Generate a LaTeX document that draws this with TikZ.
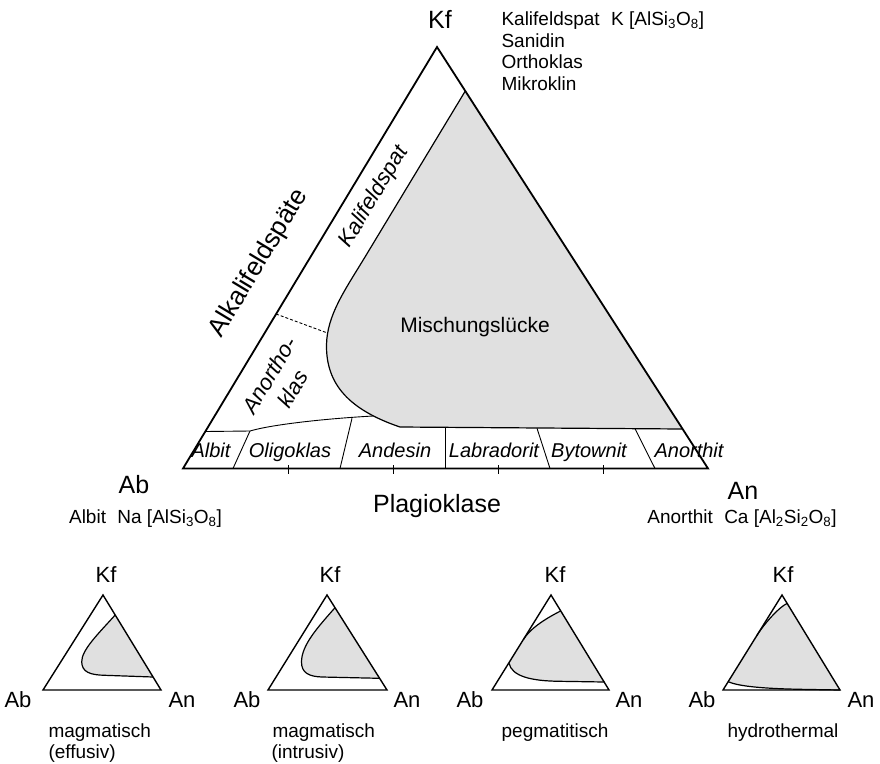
\documentclass[tikz,border=0pt]{standalone}
\usepackage{fontspec}
\setmainfont{Liberation Sans}
\usetikzlibrary{positioning}
\definecolor{luecke}{gray}{0.88}
\tikzset{
  ecke/.style={font=\fontsize{25}{30}\selectfont, anchor=base},
  formel/.style={font=\fontsize{19}{22}\selectfont, anchor=base west},
  feld/.style={font=\fontsize{20}{24}\selectfont\itshape, anchor=base},
  schraeg/.style={font=\fontsize{22}{27}\selectfont\itshape, rotate=58.9, align=center},
  rahmen/.style={line width=1.8pt, line join=miter},
  grenze/.style={line width=1.2pt},
  teil/.style={line width=0.9pt},
  klein/.style={line width=1.4pt, line join=miter},
  kleinecke/.style={font=\fontsize{22}{26}\selectfont, anchor=base},
  kommentar/.style={font=\fontsize{19}{22}\selectfont, anchor=base west}
}

\begin{document}
\begin{tikzpicture}[x=1pt, y=-1pt]
\useasboundingbox (0,0) rectangle (880,763);

% Hauptdreieck
\coordinate (Ab) at (183,468.5);
\coordinate (An) at (708,468.5);
\coordinate (Kf) at (437,47);

% Mischungsluecke
\coordinate (ml1) at (465.3,91);
\coordinate (ml2) at (365,257);
\coordinate (ml3) at (326.5,345);
\coordinate (ml4) at (400,427);
\coordinate (ml5) at (682.6,429);
\fill[luecke] (ml1) -- (ml2) .. controls (345,290) and (327,315) .. (ml3)
  .. controls (326,385) and (350,410) .. (ml4) -- (ml5) -- cycle;
\draw[grenze] (ml1) -- (ml2) .. controls (345,290) and (327,315) .. (ml3)
  .. controls (326,385) and (350,410) .. (ml4) -- (ml5);

% Plagioklas-Reihe
\coordinate (pl0) at (205.3,431.5);
\coordinate (pl1) at (250,431);
\coordinate (pl2) at (352,418.3);
\coordinate (pl3) at (373,416);
\draw[teil] (pl0) -- (pl1) .. controls (270,425) and (320,419) .. (pl3);
\draw[teil] (pl1) -- (233,468.5);
\draw[teil] (pl2) -- (340,468.5);
\draw[teil] (445,427.3) -- (445,468.5);
\draw[teil] (537,428.3) -- (550,468.5);
\draw[teil] (635,428.7) -- (655,468.5);

% Grenze Kalifeldspat / Anorthoklas
\coordinate (ak1) at (276,314);
\coordinate (ak2) at (327.5,333);
\draw[teil, dash pattern=on 3pt off 2pt] (ak1) -- (ak2);

\draw[rahmen] (Ab) -- (Kf) -- (An) -- cycle;

% Teilstriche
\draw[teil] (288,465) -- (288,474);
\draw[teil] (393,465) -- (393,474);
\draw[teil] (498,465) -- (498,474);
\draw[teil] (603,465) -- (603,474);

% Beschriftung
\node[ecke] (kf) at (440,28) {Kf};
\node[ecke] (ab) at (134,493) {Ab};
\node[ecke] (an) at (743,499) {An};
\node[ecke] (plagio) at (437,512) {Plagioklase};

\node[formel] (kalif) at (498,25.5) {Kalifeldspat\hspace{0.6em}K [AlSi\textsubscript{3}O\textsubscript{8}]};
\node[formel] (sanid) at (498,47) {Sanidin};
\node[formel] (ortho) at (498,68.5) {Orthoklas};
\node[formel] (mikro) at (498,90) {Mikroklin};
\node[formel, anchor=base] (albit) at (145.5,523) {Albit\hspace{0.6em}Na [AlSi\textsubscript{3}O\textsubscript{8}]};
\node[formel, anchor=base] (anorth) at (742,523) {Anorthit\hspace{0.6em}Ca [Al\textsubscript{2}Si\textsubscript{2}O\textsubscript{8}]};

\node[font=\fontsize{21}{25}\selectfont, anchor=base] (misch) at (475,332) {Mischungslücke};
\node[font=\fontsize{26}{31}\selectfont, rotate=58.9] (alkali) at (259,263) {Alkalifeldspäte};
\node[schraeg] (kfsp) at (374,197) {Kalifeldspat};
\node[schraeg] (anokl) at (281,382) {Anortho-\\klas};

\node[feld] (f1) at (211,457) {Albit};
\node[feld] (f2) at (290,457) {Oligoklas};
\node[feld] (f3) at (395,457) {Andesin};
\node[feld] (f4) at (494,457) {Labradorit};
\node[feld] (f5) at (589,457) {Bytownit};
\node[feld] (f6) at (689,457) {Anorthit};

% kleine Dreiecke: magmatisch (effusiv)
\fill[luecke] (115.2,615) .. controls (98,634) and (81.5,650) .. (81.7,662)
  .. controls (82,672) and (90,675) .. (105,675.3) -- (153,677) -- cycle;
\draw[grenze] (115.2,615) .. controls (98,634) and (81.5,650) .. (81.7,662)
  .. controls (82,672) and (90,675) .. (105,675.3) -- (153,677);
\draw[klein] (43,690) -- (103,595) -- (161,690) -- cycle;
\node[kleinecke] (kf1) at (106,582) {Kf};
\node[kleinecke] (ab1) at (18,707) {Ab};
\node[kleinecke] (an1) at (182,707) {An};
\node[kommentar] (t1a) at (45,737) {magmatisch};
\node[kommentar] (t1b) at (45,758) {(effusiv)};

% magmatisch (intrusiv)
\fill[luecke] (335,607.7) .. controls (318,627) and (301.5,645) .. (301.5,662)
  .. controls (301.5,673) and (309,676.5) .. (322,677) -- (379.4,678.3) -- cycle;
\draw[grenze] (335,607.7) .. controls (318,627) and (301.5,645) .. (301.5,662)
  .. controls (301.5,673) and (309,676.5) .. (322,677) -- (379.4,678.3);
\draw[klein] (268,690) -- (327,595) -- (387,690) -- cycle;
\node[kleinecke] (kf2) at (330,582) {Kf};
\node[kleinecke] (ab2) at (247,707) {Ab};
\node[kleinecke] (an2) at (407,707) {An};
\node[kommentar] (t2a) at (269,737) {magmatisch};
\node[kommentar] (t2b) at (268,758) {(intrusiv)};

% pegmatitisch
\fill[luecke] (560.5,611) .. controls (543,620) and (530,629) .. (523.4,639.5)
  -- (509,663.3) .. controls (512,676) and (530,681) .. (560,681.3) -- (604.5,682) -- cycle;
\draw[grenze] (560.5,611) .. controls (543,620) and (530,629) .. (523.4,639.5);
\draw[grenze] (509,663.3) .. controls (512,676) and (530,681) .. (560,681.3) -- (604.5,682);
\draw[klein] (492,690) -- (551,595) -- (609,690) -- cycle;
\node[kleinecke] (kf3) at (555,582) {Kf};
\node[kleinecke] (ab3) at (470,707) {Ab};
\node[kleinecke] (an3) at (629,707) {An};
\node[kommentar, anchor=base] (t3) at (555,737) {pegmatitisch};

% hydrothermal
\fill[luecke] (787.3,603.3) .. controls (779,607) and (764,624) .. (756.5,636)
  -- (728.2,681.7) .. controls (738,686) and (760,688.5) .. (800,689.3) -- (840,690) -- cycle;
\draw[grenze] (787.3,603.3) .. controls (779,607) and (764,624) .. (756.5,636);
\draw[grenze] (728.2,681.7) .. controls (738,686) and (760,688.5) .. (800,689.3) -- (840,690);
\draw[klein] (723,690) -- (782,595) -- (840,690) -- cycle;
\node[kleinecke] (kf4) at (783,582) {Kf};
\node[kleinecke] (ab4) at (702,707) {Ab};
\node[kleinecke] (an4) at (861,707) {An};
\node[kommentar, anchor=base] (t4) at (783,737) {hydrothermal};
\end{tikzpicture}
\end{document}
